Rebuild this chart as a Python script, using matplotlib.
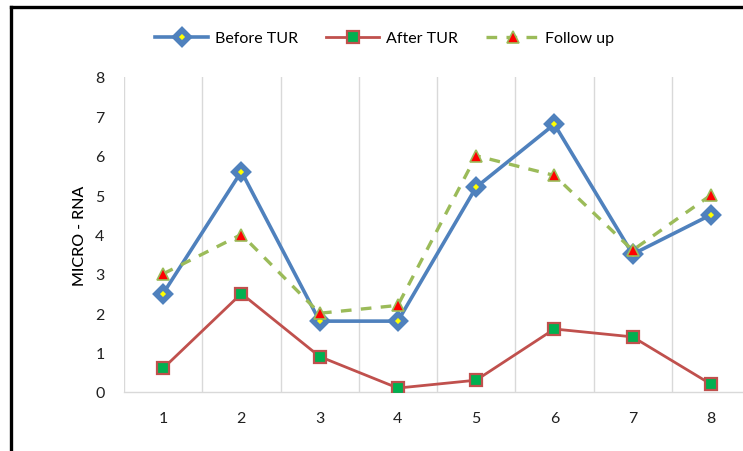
import matplotlib
matplotlib.use("Agg")
import matplotlib.pyplot as plt
from matplotlib.lines import Line2D
import numpy as np

plt.rcParams['font.family'] = ['Lato', 'DejaVu Sans']

samples = [1, 2, 3, 4, 5, 6, 7, 8]
before_tur = [2.5, 5.6, 1.8, 1.8, 5.2, 6.8, 3.5, 4.5]
after_tur = [0.6, 2.5, 0.9, 0.1, 0.3, 1.6, 1.4, 0.2]
follow_up = [3.0, 4.0, 2.0, 2.2, 6.0, 5.5, 3.6, 5.0]
y_ticks = [0, 1, 2, 3, 4, 5, 6, 7, 8]

fig = plt.figure(figsize=(7.43, 4.52), dpi=100)
W, H = 743, 452
ax = fig.add_axes([124 / W, 1 - 393 / H, (750 - 124) / W, (393 - 78) / H])

blue = '#4F81BD'
red = '#C0504D'
green = '#9BBB59'

before_style = dict(color=blue, lw=2.6, marker='D', ms=7.5, mfc='#FFFF00', mec=blue, mew=4)
after_style = dict(color=red, lw=2.0, marker='s', ms=9, mfc='#00B050', mec=red, mew=1.6)
follow_style = dict(color=green, lw=2.4, ls=(0, (3.2, 2.8)), marker='^', ms=9,
                    mfc='#FF0000', mec=green, mew=1.2)

ax.plot(samples, before_tur, label='Before TUR', zorder=4, **before_style)
ax.plot(samples, after_tur, label='After TUR', zorder=3, **after_style)
ax.plot(samples, follow_up, label='Follow up', zorder=5, **follow_style)

ax.set_xlim(0.5, 8.5)
ax.set_ylim(0, 8)
ax.set_xticks(samples)
ax.set_yticks(y_ticks)
ax.set_xticks(np.arange(0.5, 9.0, 1.0), minor=True)
ax.grid(True, which='minor', axis='x', color='#D9D9D9', lw=1)
ax.tick_params(axis='both', which='both', length=0, labelsize=11.5)
ax.tick_params(axis='x', pad=14)
ax.tick_params(axis='y', pad=14)
for t in ax.get_yticklabels() + ax.get_xticklabels():
    t.set_color('#202020')

for s in ['top', 'right', 'left']:
    ax.spines[s].set_visible(False)
ax.spines['bottom'].set_color('#D9D9D9')
ax.spines['bottom'].set_linewidth(1)

ax.set_ylabel('MICRO - RNA', fontsize=11.5, color='black', labelpad=6, fontweight='medium')

handles = [Line2D([], [], **before_style),
           Line2D([], [], **after_style),
           Line2D([], [], **follow_style)]
fig.legend(handles, ['Before TUR', 'After TUR', 'Follow up'], loc='center',
           bbox_to_anchor=(385 / W, 1 - 39 / H), ncol=3, frameon=False,
           fontsize=11.5, handlelength=3.3, columnspacing=1.8, handletextpad=0.4)

# outer frame lines along the top and left edges
fig.add_artist(Line2D([10.5 / W, 1.0], [1 - 7.5 / H, 1 - 7.5 / H], transform=fig.transFigure,
                      color='black', lw=2.4))
fig.add_artist(Line2D([10.5 / W, 10.5 / W], [0, 1 - 7.5 / H], transform=fig.transFigure,
                      color='black', lw=2.4))

fig.savefig('out.png', dpi=100)
